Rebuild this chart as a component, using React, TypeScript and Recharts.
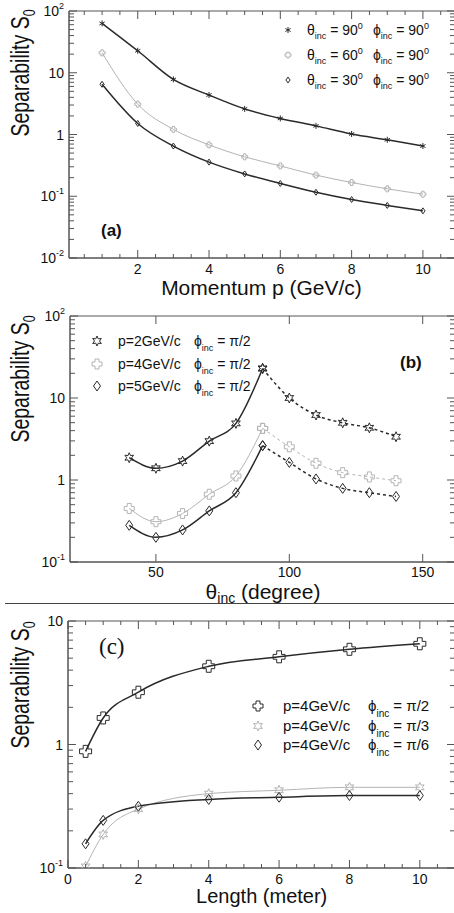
import React from "react";
import { LineChart, Line, XAxis, YAxis, ReferenceArea } from "recharts";

// (a) separability vs momentum
const momentum = [1, 2, 3, 4, 5, 6, 7, 8, 9, 10];
const theta90 = [63, 22.7, 7.8, 4.36, 2.6, 1.82, 1.38, 1.02, 0.82, 0.65];
const theta60 = [21, 3.1, 1.21, 0.68, 0.435, 0.31, 0.22, 0.167, 0.132, 0.108];
const theta30 = [6.5, 1.51, 0.65, 0.357, 0.23, 0.161, 0.116, 0.0885, 0.071, 0.058];

// (b) separability vs incident angle
const thetaInc = [40, 50, 60, 70, 80, 90, 100, 110, 120, 130, 140];
const p2 = [1.87, 1.39, 1.7, 2.98, 4.9, 22.9, 10, 6.2, 4.98, 4.33, 3.37];
const p4 = [0.45, 0.31, 0.39, 0.67, 1.12, 4.26, 2.54, 1.6, 1.23, 1.09, 0.98];
const p5 = [0.28, 0.2, 0.246, 0.42, 0.7, 2.62, 1.64, 1.03, 0.79, 0.7, 0.63];

// (c) separability vs length
const lengths = [0.5, 1, 2, 4, 6, 8, 10];
const phiHalf = [0.88, 1.64, 2.65, 4.3, 5.13, 5.9, 6.54];
const phiThird = [0.103, 0.187, 0.3, 0.4, 0.426, 0.45, 0.45];
const phiSixth = [0.157, 0.243, 0.316, 0.359, 0.374, 0.386, 0.386];

// tick labels
const momentumLabels = [2, 4, 6, 8, 10];
const thetaLabels = [50, 100, 150];
const lengthLabels = [0, 2, 4, 6, 8, 10];
const halfSteps = Array.from({ length: 21 }, (_, i) => i * 0.5 + 0.5);
const halfStepsC = Array.from({ length: 22 }, (_, i) => i * 0.5);

const logTicks = (lo: number, hi: number) => {
  const out: number[] = [];
  for (let e = lo; e < hi; e++) {
    for (let k = 1; k <= 9; k++) out.push(+(k * Math.pow(10, e)).toPrecision(3));
  }
  out.push(Math.pow(10, hi));
  return out;
};

const DARK = "#2a2a2a";
const LIGHT = "#b4b4b4";
const AX = "#555";
const FONT = "'Liberation Sans', Arial, sans-serif";
const PHI = "\u03d5";

const isDecade = (v: number) => Math.abs(Math.log10(v) - Math.round(Math.log10(v))) < 1e-6;

const XTick = (props: any) => {
  const { x, y, payload, plotH, labels, minor, gap = 15.5 } = props;
  const v = payload.value;
  const major = labels.includes(v);
  if (!major && !minor) return <g />;
  const len = major ? 8 : 4;
  return (
    <g>
      <line x1={x} y1={y} x2={x} y2={y - len} stroke={AX} />
      <line x1={x} y1={y - plotH} x2={x} y2={y - plotH + len} stroke={AX} />
      {major && (
        <text x={x} y={y + gap} textAnchor="middle" fontSize={14} fill="#111" fontFamily={FONT}>
          {v}
        </text>
      )}
    </g>
  );
};

const YTick = (props: any) => {
  const { x, y, payload, plotW } = props;
  const v = payload.value;
  const major = isDecade(v);
  const len = major ? 8 : 5;
  const e = Math.round(Math.log10(v));
  return (
    <g>
      <line x1={x} y1={y} x2={x + len} y2={y} stroke={AX} />
      <line x1={x + plotW} y1={y} x2={x + plotW - len} y2={y} stroke={AX} />
      {major && (
        <text x={x - 5} y={y + 5} textAnchor="end" fontSize={14} fill="#111" fontFamily={FONT}>
          {e === 0 ? "1" : "10"}
          {e !== 0 && e !== 1 && (
            <tspan fontSize={9} dy={-7}>
              {e}
            </tspan>
          )}
        </text>
      )}
    </g>
  );
};

// markers
const Star = ({ cx, cy, r, color }: any) => {
  const pts: string[] = [];
  for (let i = 0; i < 12; i++) {
    const a = (Math.PI / 6) * i - Math.PI / 2;
    const rr = i % 2 === 0 ? r : r * 0.5;
    pts.push(`${cx + rr * Math.cos(a)},${cy + rr * Math.sin(a)}`);
  }
  return <polygon points={pts.join(" ")} fill="none" stroke={color} strokeWidth={1} />;
};
const Cross = ({ cx, cy, r, color }: any) => {
  const w = r * 0.4;
  const p = [
    [-w, -r], [w, -r], [w, -w], [r, -w], [r, w], [w, w],
    [w, r], [-w, r], [-w, w], [-r, w], [-r, -w], [-w, -w],
  ].map(([a, b]) => `${cx + a},${cy + b}`);
  return <polygon points={p.join(" ")} fill="none" stroke={color} strokeWidth={1} />;
};
const Diamond = ({ cx, cy, r, color }: any) => (
  <polygon
    points={`${cx},${cy - r} ${cx + r * 0.7},${cy} ${cx},${cy + r} ${cx - r * 0.7},${cy}`}
    fill="none"
    stroke={color}
    strokeWidth={1}
  />
);
const Asterisk = ({ cx, cy, r, color }: any) => (
  <g stroke={color} strokeWidth={1}>
    <line x1={cx} y1={cy - r} x2={cx} y2={cy + r} />
    <line x1={cx - r * 0.87} y1={cy - r / 2} x2={cx + r * 0.87} y2={cy + r / 2} />
    <line x1={cx - r * 0.87} y1={cy + r / 2} x2={cx + r * 0.87} y2={cy - r / 2} />
  </g>
);

const dotOf = (Shape: any, r: number, color: string) => (p: any) =>
  p.cx == null || p.cy == null || p.value == null ? (
    <g key={p.index} />
  ) : (
    <Shape key={p.index} cx={p.cx} cy={p.cy} r={r} color={color} />
  );

const YLabel = ({ cy }: { cy: number }) => (
  <g transform={`translate(29 ${cy}) rotate(-90) scale(0.78 1)`}>
    <text x={0} y={0} textAnchor="middle" fontSize={25} fill="#111" fontFamily={FONT}>
      Separability S
      <tspan fontSize={16} dy={6}>
        0
      </tspan>
    </text>
  </g>
);

const Sub = ({ children, size, up }: any) => (
  <tspan fontSize={size} dy={up}>
    {children}
  </tspan>
);

const rowsA = momentum.map((p, i) => ({ p, t90: theta90[i], t60: theta60[i], t30: theta30[i] }));
const rowsB = thetaInc.map((t, i) => ({
  t,
  p2a: t <= 90 ? p2[i] : null,
  p2b: t >= 90 ? p2[i] : null,
  p4a: t <= 90 ? p4[i] : null,
  p4b: t >= 90 ? p4[i] : null,
  p5a: t <= 90 ? p5[i] : null,
  p5b: t >= 90 ? p5[i] : null,
}));
const rowsC = lengths.map((l, i) => ({ l, half: phiHalf[i], third: phiThird[i], sixth: phiSixth[i] }));

const legendA = [
  { th: "30", y: 80, shape: Diamond, color: DARK },
  { th: "60", y: 55, shape: Cross, color: LIGHT },
  { th: "90", y: 30, shape: Asterisk, color: DARK },
];
const legendB = [
  { p: "2", y: 41, shape: Star, color: DARK },
  { p: "4", y: 64, shape: Cross, color: LIGHT },
  { p: "5", y: 86, shape: Diamond, color: DARK },
];
const legendC = [
  { phi: "2", y: 101, shape: Cross, color: DARK },
  { phi: "3", y: 121, shape: Star, color: LIGHT },
  { phi: "6", y: 140, shape: Diamond, color: DARK },
];

const PanelA = () => (
  <LineChart width={458} height={300} data={rowsA} margin={{ top: 11, right: 3, bottom: 0, left: 0 }}>
    <XAxis
      dataKey="p"
      type="number"
      domain={[0.072, 10.9]}
      allowDataOverflow
      ticks={halfSteps}
      interval={0}
      tickSize={0}
      tickMargin={0}
      height={42}
      axisLine={{ stroke: AX }}
      tick={(p: any) => <XTick {...p} plotH={247} labels={momentumLabels} minor />}
    />
    <YAxis
      type="number"
      scale="log"
      domain={[0.01, 100]}
      allowDataOverflow
      ticks={logTicks(-2, 2)}
      interval={0}
      tickSize={0}
      tickMargin={0}
      width={69}
      axisLine={{ stroke: AX }}
      tick={(p: any) => <YTick {...p} plotW={386} />}
    />
    <ReferenceArea x1={0.072} x2={10.9} y1={0.01} y2={100} fill="none" stroke={AX} ifOverflow="visible" />
    <Line dataKey="t60" type="monotone" stroke={LIGHT} strokeWidth={1} dot={dotOf(Cross, 3, LIGHT)} isAnimationActive={false} />
    <Line dataKey="t90" type="monotone" stroke={DARK} strokeWidth={1.5} dot={dotOf(Asterisk, 3, DARK)} isAnimationActive={false} />
    <Line dataKey="t30" type="monotone" stroke={DARK} strokeWidth={1.5} dot={dotOf(Diamond, 3, DARK)} isAnimationActive={false} />
    <YLabel cy={73} />
    <text x={261.5} y={295} textAnchor="middle" fontSize={21} fill="#111" fontFamily={FONT}>
      Momentum p (GeV/c)
    </text>
    <text x={101} y={236} fontSize={17} fontWeight="bold" fill="#111" fontFamily={FONT}>
      (a)
    </text>
    {legendA.map((e) => (
      <g key={e.th}>
        <e.shape cx={288} cy={e.y} r={3} color={e.color} />
        <text x={307} y={e.y + 5} fontSize={14} fill="#111" fontFamily={FONT}>
          θ<Sub size={9} up={4}>inc</Sub>
          <Sub size={14} up={-4}>{` = ${e.th}`}</Sub>
          <Sub size={9} up={-6}>0</Sub>
        </text>
        <text x={373} y={e.y + 5} fontSize={14} fill="#111" fontFamily={FONT}>
          {PHI}
          <Sub size={9} up={4}>inc</Sub>
          <Sub size={14} up={-4}>{" = 90"}</Sub>
          <Sub size={9} up={-6}>0</Sub>
        </text>
      </g>
    ))}
  </LineChart>
);

const PanelB = () => (
  <LineChart width={458} height={312} data={rowsB} margin={{ top: 16, right: 3, bottom: 0, left: 0 }}>
    <XAxis
      dataKey="t"
      type="number"
      domain={[17.8, 162.1]}
      allowDataOverflow
      ticks={thetaLabels}
      interval={0}
      tickSize={0}
      tickMargin={0}
      height={50}
      axisLine={{ stroke: AX }}
      tick={(p: any) => <XTick {...p} plotH={246} labels={thetaLabels} gap={14.5} />}
    />
    <YAxis
      type="number"
      scale="log"
      domain={[0.1, 100]}
      allowDataOverflow
      ticks={logTicks(-1, 2)}
      interval={0}
      tickSize={0}
      tickMargin={0}
      width={70}
      axisLine={{ stroke: AX }}
      tick={(p: any) => <YTick {...p} plotW={385} />}
    />
    <ReferenceArea x1={17.8} x2={162.1} y1={0.1} y2={100} fill="none" stroke={AX} ifOverflow="visible" />
    <Line dataKey="p4a" type="monotone" stroke={LIGHT} strokeWidth={1} dot={dotOf(Cross, 5, LIGHT)} isAnimationActive={false} />
    <Line dataKey="p4b" type="monotone" stroke={LIGHT} strokeWidth={1} strokeDasharray="3 3" dot={dotOf(Cross, 5, LIGHT)} isAnimationActive={false} />
    <Line dataKey="p2a" type="monotone" stroke={DARK} strokeWidth={1.5} dot={dotOf(Star, 5, DARK)} isAnimationActive={false} />
    <Line dataKey="p2b" type="monotone" stroke={DARK} strokeWidth={1.5} strokeDasharray="3 3" dot={dotOf(Star, 5, DARK)} isAnimationActive={false} />
    <Line dataKey="p5a" type="monotone" stroke={DARK} strokeWidth={1.5} dot={dotOf(Diamond, 5, DARK)} isAnimationActive={false} />
    <Line dataKey="p5b" type="monotone" stroke={DARK} strokeWidth={1.5} strokeDasharray="3 3" dot={dotOf(Diamond, 5, DARK)} isAnimationActive={false} />
    <YLabel cy={79} />
    <text x={263} y={299} textAnchor="middle" fontSize={21} fill="#111" fontFamily={FONT}>
      θ<Sub size={14} up={4}>inc</Sub>
      <Sub size={21} up={-4}>{" (degree)"}</Sub>
    </text>
    <text x={400} y={68} fontSize={17} fontWeight="bold" fill="#111" fontFamily={FONT}>
      (b)
    </text>
    {legendB.map((e) => (
      <g key={e.p}>
        <e.shape cx={97} cy={e.y} r={5} color={e.color} />
        <text x={118} y={e.y + 5} fontSize={14} fill="#111" fontFamily={FONT}>
          {`p=${e.p}GeV/c`}
        </text>
        <text x={194} y={e.y + 5} fontSize={14} fill="#111" fontFamily={FONT}>
          {PHI}
          <Sub size={9} up={5}>inc</Sub>
          <Sub size={14} up={-5}>{" = π/2"}</Sub>
        </text>
      </g>
    ))}
  </LineChart>
);

const PanelC = () => (
  <LineChart width={458} height={308} data={rowsC} margin={{ top: 16, right: 3, bottom: 0, left: 0 }}>
    <XAxis
      dataKey="l"
      type="number"
      domain={[0, 11]}
      allowDataOverflow
      ticks={halfStepsC}
      interval={0}
      tickSize={0}
      tickMargin={0}
      height={45}
      axisLine={{ stroke: AX }}
      tick={(p: any) => <XTick {...p} plotH={247} labels={lengthLabels} minor />}
    />
    <YAxis
      type="number"
      scale="log"
      domain={[0.1, 10]}
      allowDataOverflow
      ticks={logTicks(-1, 1)}
      interval={0}
      tickSize={0}
      tickMargin={0}
      width={68}
      axisLine={{ stroke: AX }}
      tick={(p: any) => <YTick {...p} plotW={387} />}
    />
    <ReferenceArea x1={0} x2={11} y1={0.1} y2={10} fill="none" stroke={AX} ifOverflow="visible" />
    <Line dataKey="third" type="monotone" stroke={LIGHT} strokeWidth={1} dot={dotOf(Star, 5, LIGHT)} isAnimationActive={false} />
    <Line dataKey="half" type="monotone" stroke={DARK} strokeWidth={1.5} dot={dotOf(Cross, 6, DARK)} isAnimationActive={false} />
    <Line dataKey="sixth" type="monotone" stroke={DARK} strokeWidth={1.5} dot={dotOf(Diamond, 5, DARK)} isAnimationActive={false} />
    <YLabel cy={80} />
    <text x={261.7} y={298} textAnchor="middle" fontSize={20} fill="#111" fontFamily={FONT}>
      Length (meter)
    </text>
    <text x={99} y={49} fontSize={23} fill="#111" fontFamily="'Liberation Serif', 'Times New Roman', serif">
      (c)
    </text>
    {legendC.map((e) => (
      <g key={e.phi}>
        <e.shape cx={258} cy={e.y} r={5} color={e.color} />
        <text x={283} y={e.y + 5} fontSize={15} fill="#111" fontFamily={FONT}>
          p=4GeV/c
        </text>
        <text x={368} y={e.y + 5} fontSize={15} fill="#111" fontFamily={FONT}>
          {PHI}
          <Sub size={10} up={6}>inc</Sub>
          <Sub size={15} up={-6}>{` = π/${e.phi}`}</Sub>
        </text>
      </g>
    ))}
  </LineChart>
);

export default function App() {
  return (
    <div
      style={{
        position: "absolute",
        left: 0,
        top: 0,
        width: 454,
        height: 913,
        overflow: "hidden",
        background: "#fff",
      }}
    >
      <div style={{ position: "absolute", left: 0, top: 0 }}>
        <PanelA />
      </div>
      <div style={{ position: "absolute", left: 0, top: 300 }}>
        <PanelB />
      </div>
      <div style={{ position: "absolute", left: 5, top: 603, width: 449, borderTop: "1.5px solid #444" }} />
      <div style={{ position: "absolute", left: 0, top: 605 }}>
        <PanelC />
      </div>
    </div>
  );
}
